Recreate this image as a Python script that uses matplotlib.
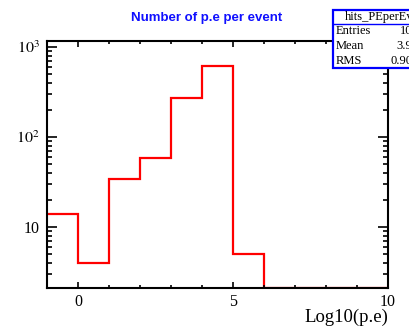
import matplotlib.pyplot as plt
import numpy as np
from matplotlib.patches import Rectangle
from matplotlib.ticker import FixedLocator, LogLocator, NullFormatter

plt.rcParams['mathtext.fontset'] = 'stix'
plt.rcParams['font.family'] = ['Liberation Serif', 'DejaVu Serif']

# гистограмма числа фотоэлектронов (log10), бины по 1
edges = np.arange(-1, 11, 1)
counts = np.array([14, 4, 34, 59, 272, 612, 5, 0, 0, 0, 0])

hist_name = "hits_PEperEvt"
stat_names = ["Entries", "Mean", "RMS"]
stat_values = ["1000", "3.904", "0.9049"]

ymin, ymax = 2.1, 1160

fig = plt.figure(figsize=(4.09, 3.30), dpi=100)
ax = fig.add_axes([47/409, 42/330, 341/409, 247/330])

# пустые бины рисуются по нижней границе, как в ROOT
draw_counts = np.where(counts > 0, counts, ymin)
ax.stairs(draw_counts, edges, baseline=None, color='red', linewidth=1.6, clip_on=True)

ax.set_yscale('log')
ax.set_xlim(-1, 10)
ax.set_ylim(ymin, ymax)

for s in ax.spines.values():
    s.set_linewidth(1.5)

ax.xaxis.set_major_locator(FixedLocator([0, 5, 10]))
ax.xaxis.set_minor_locator(FixedLocator(np.arange(-1, 11, 1)))
ax.set_xticklabels(['0', '5', '10'], fontsize=11.5)

ax.yaxis.set_major_locator(FixedLocator([10, 100, 1000]))
ax.set_yticklabels(['10', r'$10^{2}$', r'$10^{3}$'], fontsize=11.5)
ax.yaxis.set_minor_locator(LogLocator(base=10, subs=np.arange(2, 10)))
ax.yaxis.set_minor_formatter(NullFormatter())

ax.tick_params(axis='both', which='both', direction='in', top=True, right=True, width=1.2)
ax.tick_params(axis='x', which='major', length=4, pad=4)
ax.tick_params(axis='x', which='minor', length=2.2)
ax.tick_params(axis='y', which='major', length=7.5, pad=5)
ax.tick_params(axis='y', which='minor', length=3.8)

ax.text(1.0, -0.085, "Log10(p.e)", transform=ax.transAxes, ha='right', va='top', fontsize=13.5)

fig.text(0.505, 0.945, "Number of p.e per event", ha='center', va='center',
         color='#1010ff', fontsize=9.5, fontweight='bold', family='Liberation Sans')

# блок статистики (выходит за правый край)
W, H = 409, 330
bx0, bx1 = 333, 428
by_top, by_head, by_bot = 10, 24, 68
fig.patches.append(Rectangle((bx0/W, 1 - by_bot/H), (bx1-bx0)/W, (by_bot-by_top)/H,
                             transform=fig.transFigure, facecolor='white',
                             edgecolor='#0000ff', linewidth=1.6, zorder=5))
fig.lines.append(plt.Line2D([bx0/W, bx1/W], [1 - by_head/H]*2, transform=fig.transFigure,
                            color='#0000ff', linewidth=1.0, zorder=6))
fig.text((bx0+bx1)/2/W, 1 - (by_top+by_head)/2/H, hist_name, ha='center', va='center',
         fontsize=9, zorder=7)
row_h = (by_bot - by_head) / 3
for i, (n, v) in enumerate(zip(stat_names, stat_values)):
    yc = 1 - (by_head + row_h*(i+0.5))/H
    fig.text((bx0+3)/W, yc, n, ha='left', va='center', fontsize=9, zorder=7)
    fig.text((bx1-3)/W, yc, v, ha='right', va='center', fontsize=9, zorder=7)

fig.savefig('out.png', dpi=100)
